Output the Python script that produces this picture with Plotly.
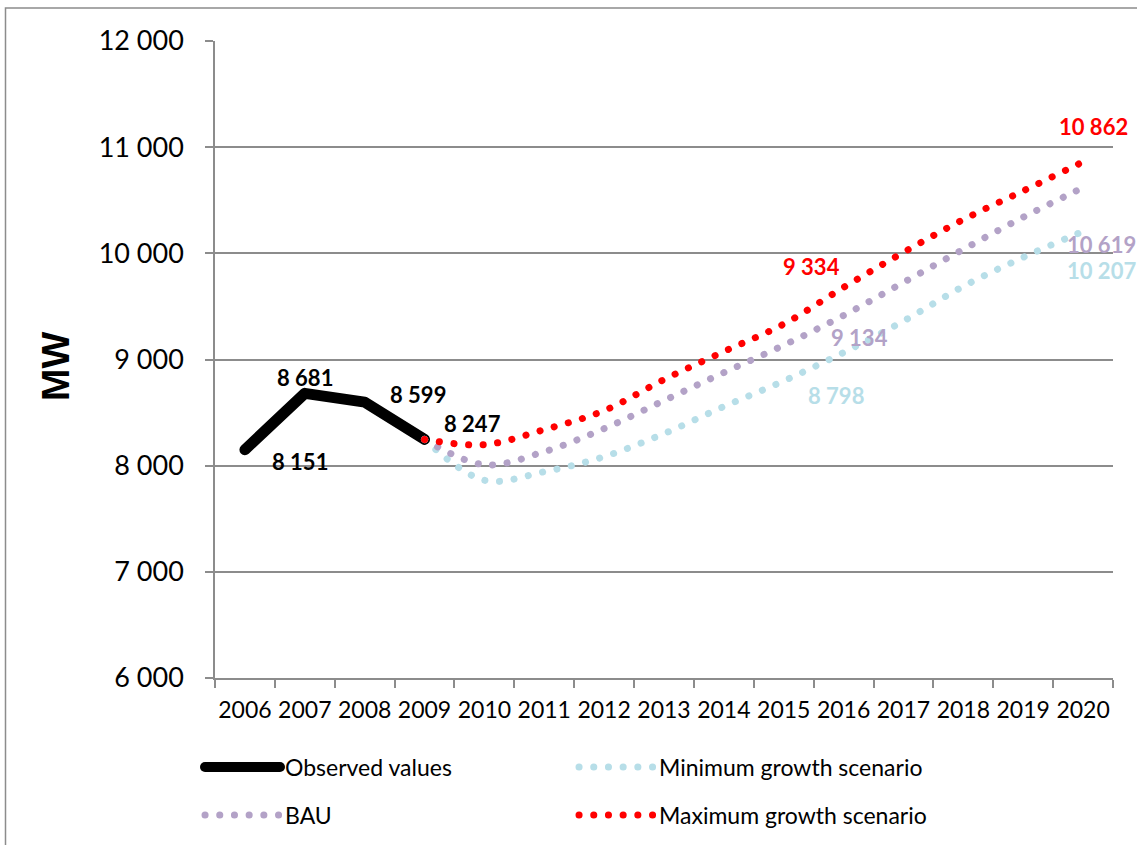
import plotly.graph_objects as go

# ---------------- data ----------------
years = [str(y) for y in range(2006, 2021)]
obs_years = ["2006", "2007", "2008", "2009"]
observed = [8151, 8681, 8599, 8247]
scen_years = [str(y) for y in range(2009, 2021)]
min_growth = [8247, 7862, 7943, 8085, 8302, 8557, 8798, 9066, 9362, 9689, 9962, 10207]
bau = [8247, 8009, 8132, 8349, 8613, 8877, 9134, 9415, 9726, 10038, 10340, 10619]
max_growth = [8247, 8198, 8340, 8519, 8811, 9075, 9334, 9679, 10009, 10318, 10588, 10862]
y_ticks = [6000, 7000, 8000, 9000, 10000, 11000, 12000]

BLACK = "#000000"
LIGHTBLUE = "#B7DEE8"
PURPLE = "#B3A2C7"
RED = "#FF0000"
GRID = "#8C8C8C"
FONT = "Lato, 'Open Sans', sans-serif"

# plot-area geometry (pixels) -> paper helpers
L, R, T, B = 215, 1113, 41, 678
def px(x):
    return (x - L) / (R - L)
def py(y):
    return (B - y) / (B - T)

fig = go.Figure()
fig.add_trace(go.Scatter(x=obs_years, y=observed, mode="lines", name="Observed values",
                         line=dict(color=BLACK, width=11), legend="legend"))
fig.add_trace(go.Scatter(x=scen_years, y=min_growth, mode="lines", name="Minimum growth scenario",
                         line=dict(color=LIGHTBLUE, width=7, dash="dot", shape="spline", smoothing=1),
                         legend="legend"))
fig.add_trace(go.Scatter(x=scen_years, y=bau, mode="lines", name="BAU",
                         line=dict(color=PURPLE, width=7, dash="dot", shape="spline", smoothing=1),
                         legend="legend2"))
fig.add_trace(go.Scatter(x=scen_years, y=max_growth, mode="lines", name="Maximum growth scenario",
                         line=dict(color=RED, width=7, dash="dot", shape="spline", smoothing=1),
                         legend="legend2"))

def fmt(v):
    return f"{v:,}".replace(",", " ")

# data labels: (year, value, color, xshift, yshift)
labels = [
    (obs_years[0], observed[0], BLACK, 55, -12),
    (obs_years[1], observed[1], BLACK, 0, 16),
    (obs_years[2], observed[2], BLACK, 53, 8),
    (obs_years[3], observed[3], BLACK, 48, 16),
    (scen_years[6], max_growth[6], RED, 28, 58),
    (scen_years[6], bau[6], PURPLE, 76, 8),
    (scen_years[6], min_growth[6], LIGHTBLUE, 52, -15),
    (scen_years[-1], max_growth[-1], RED, 10, 35),
    (scen_years[-1], bau[-1], PURPLE, 18, -57),
    (scen_years[-1], min_growth[-1], LIGHTBLUE, 18, -39),
]
for yr, v, c, xs, ys in labels:
    fig.add_annotation(x=years.index(yr), y=v, xref="x", yref="y", text=fmt(v), showarrow=False,
                       xshift=xs, yshift=ys, xanchor="center", yanchor="middle",
                       font=dict(family=FONT, size=22, color=c, weight="bold"))

# axis title
fig.add_annotation(xref="paper", yref="paper", x=px(55), y=py(367), text="<b>MW</b>",
                   textangle=-90, showarrow=False, xanchor="center", yanchor="middle",
                   font=dict(family="'Liberation Sans', Arial, sans-serif", size=39, color=BLACK))

# outer chart border
fig.add_shape(type="rect", xref="paper", yref="paper", x0=px(5.5), y0=py(900), x1=px(1200), y1=py(8),
              line=dict(color="#8C8C8C", width=1.5), fillcolor="rgba(0,0,0,0)", layer="below")

fig.update_layout(
    width=1137, height=845,
    margin=dict(l=L, r=1137 - R, t=T, b=845 - B, autoexpand=False),
    paper_bgcolor="white", plot_bgcolor="white",
    separators=", ",
    font=dict(family=FONT, color=BLACK),
    showlegend=True,
    legend=dict(orientation="h", x=px(200), y=py(767), xanchor="left", yanchor="middle",
                entrywidth=284, entrywidthmode="pixels", font=dict(family=FONT, size=23),
                bgcolor="rgba(0,0,0,0)", itemwidth=75),
    legend2=dict(orientation="h", x=px(200), y=py(815), xanchor="left", yanchor="middle",
                 entrywidth=284, entrywidthmode="pixels", font=dict(family=FONT, size=23),
                 bgcolor="rgba(0,0,0,0)", itemwidth=75),
    xaxis=dict(type="category", categoryorder="array", categoryarray=years,
               range=[-0.5, len(years) - 0.5],
               tickmode="array", tickvals=years, ticktext=years, tickangle=0, automargin=False,
               tickson="boundaries", ticks="outside", ticklen=8, tickcolor=GRID, tickwidth=1.5,
               showline=True, linecolor=GRID, linewidth=1.5, showgrid=False,
               tickfont=dict(family=FONT, size=23, color=BLACK), ticklabelstandoff=11),
    yaxis=dict(range=[6000, 12000], tickmode="array", tickvals=y_ticks, automargin=False,
               tickformat=",d", ticks="outside", ticklen=8, tickcolor=GRID, tickwidth=1.5,
               showline=True, linecolor=GRID, linewidth=1.5,
               showgrid=True, gridcolor=GRID, gridwidth=1.5, zeroline=False,
               tickfont=dict(family=FONT, size=27, color=BLACK), ticklabelstandoff=16),
)

post = """
document.body.style.margin = '0';
var gd = document.getElementById('{plot_id}');
function fixLines(){
  document.querySelectorAll('path.js-line').forEach(function(p){
    p.style.strokeLinecap = 'round';
    p.style.strokeLinejoin = 'round';
    var d = p.style.strokeDasharray;
    if (d && d !== 'none' && d !== '') { p.style.strokeDasharray = '0.1px, 14.6px'; }
  });
}
fixLines();
if (gd && gd.on) { gd.on('plotly_afterplot', fixLines); }
"""
fig.write_html("out.html", post_script=post, config={"displayModeBar": False})
